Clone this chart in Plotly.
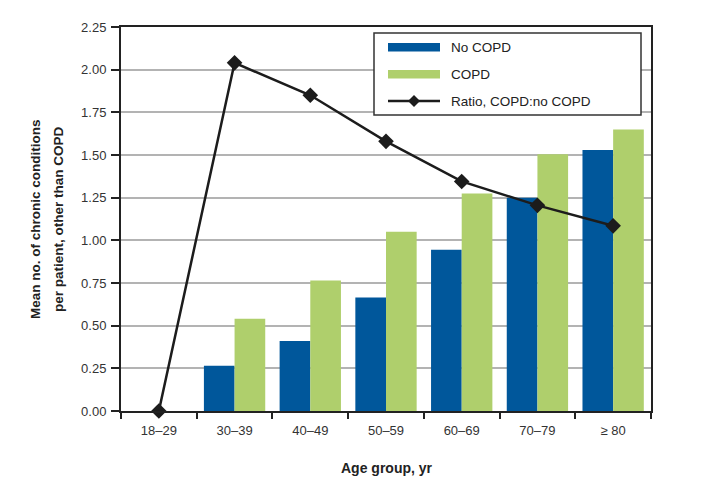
import plotly.graph_objects as go

categories = ["18–29", "30–39", "40–49", "50–59", "60–69", "70–79", "≥ 80"]
no_copd = [None, 0.265, 0.41, 0.665, 0.945, 1.25, 1.53]
copd = [None, 0.54, 0.765, 1.05, 1.275, 1.505, 1.65]
ratio = [0.0, 2.04, 1.85, 1.58, 1.345, 1.205, 1.085]
y_ticks = [0, 0.25, 0.5, 0.75, 1.0, 1.25, 1.5, 1.75, 2.0, 2.25]
y_tick_text = ["%.2f" % v for v in y_ticks]
series_names = ["No COPD", "COPD", "Ratio, COPD:no COPD"]
x_title = "Age group, yr"
y_title_lines = ["Mean no. of chronic conditions", "per patient, other than COPD"]

BLUE = "#00579B"
GREEN = "#AFCF6C"
LINE = "#1c1c1c"
FONT = "Liberation Sans, Arial, sans-serif"

W, H = 716, 490
L, R, T, B = 113, 73, 19, 87
PW, PH = W - L - R, H - T - B


def px(x):
    return (x - L) / PW


def py(y):
    return (H - B - y) / PH


fig = go.Figure()
fig.add_trace(go.Bar(x=categories, y=no_copd, name=series_names[0],
                     marker=dict(color=BLUE, line=dict(width=0)), showlegend=False))
fig.add_trace(go.Bar(x=categories, y=copd, name=series_names[1],
                     marker=dict(color=GREEN, line=dict(width=0)), showlegend=False))
fig.add_trace(go.Scatter(x=categories, y=ratio, name=series_names[2], mode="lines+markers",
                         line=dict(color=LINE, width=2.5),
                         marker=dict(symbol="diamond", size=12, color=LINE),
                         showlegend=False, cliponaxis=False))

# manual legend (box, swatches, labels)
shapes = [
    dict(type="rect", xref="paper", yref="paper", x0=px(366), x1=px(633), y0=py(107), y1=py(25),
         line=dict(color="#333333", width=1.5), fillcolor="white", layer="above"),
    dict(type="rect", xref="paper", yref="paper", x0=px(380), x1=px(432), y0=py(43.5), y1=py(35),
         line=dict(width=0), fillcolor=BLUE, layer="above"),
    dict(type="rect", xref="paper", yref="paper", x0=px(380), x1=px(432), y0=py(70.5), y1=py(62),
         line=dict(width=0), fillcolor=GREEN, layer="above"),
    dict(type="line", xref="paper", yref="paper", x0=px(380), x1=px(432), y0=py(93), y1=py(93),
         line=dict(color=LINE, width=2.5), layer="above"),
    dict(type="path", xref="paper", yref="paper",
         path="M %f,%f L %f,%f L %f,%f L %f,%f Z" % (px(406), py(87), px(412), py(93),
                                                    px(406), py(99), px(400), py(93)),
         line=dict(width=0), fillcolor=LINE, layer="above"),
]
annotations = []
for name, yy in zip(series_names, [39, 66, 93]):
    annotations.append(dict(xref="paper", yref="paper", x=px(441), y=py(yy), text=name,
                            showarrow=False, xanchor="left", yanchor="middle",
                            font=dict(family=FONT, size=13.5, color="#222222")))
# axis titles
annotations.append(dict(xref="paper", yref="paper", x=px(379), y=py(460),
                        text="<b>%s</b>" % x_title, showarrow=False,
                        xanchor="center", yanchor="middle",
                        font=dict(family=FONT, size=14, color="#222222")))
for line_text, xx in zip(y_title_lines, [27, 50]):
    annotations.append(dict(xref="paper", yref="paper", x=px(xx), y=py(211),
                            text="<b>%s</b>" % line_text, showarrow=False, textangle=-90,
                            xanchor="center", yanchor="middle",
                            font=dict(family=FONT, size=13.5, color="#222222")))

fig.update_layout(
    width=W, height=H,
    margin=dict(l=L, r=R, t=T, b=B),
    paper_bgcolor="white", plot_bgcolor="white",
    barmode="group", bargap=0.19, bargroupgap=0,
    font=dict(family=FONT, size=13, color="#333333"),
    shapes=shapes, annotations=annotations,
    showlegend=False,
)
fig.update_xaxes(
    type="category", tickson="boundaries", ticks="outside", ticklen=6, tickwidth=1.5,
    tickcolor="#222222", showline=True, linecolor="#222222", linewidth=2, mirror=True,
    showgrid=False, tickfont=dict(family=FONT, size=13, color="#333333"),
    ticklabelstandoff=6,
)
fig.update_yaxes(
    range=[0, 2.25], tickvals=y_ticks, ticktext=y_tick_text, ticks="outside", ticklen=8,
    tickwidth=1.5, tickcolor="#222222", showline=True, linecolor="#222222", linewidth=2,
    mirror=True, showgrid=True, gridcolor="#b3b3b3", gridwidth=1.5, zeroline=False,
    tickfont=dict(family=FONT, size=13, color="#333333"), ticklabelstandoff=2,
)

fig.write_html("out.html")
